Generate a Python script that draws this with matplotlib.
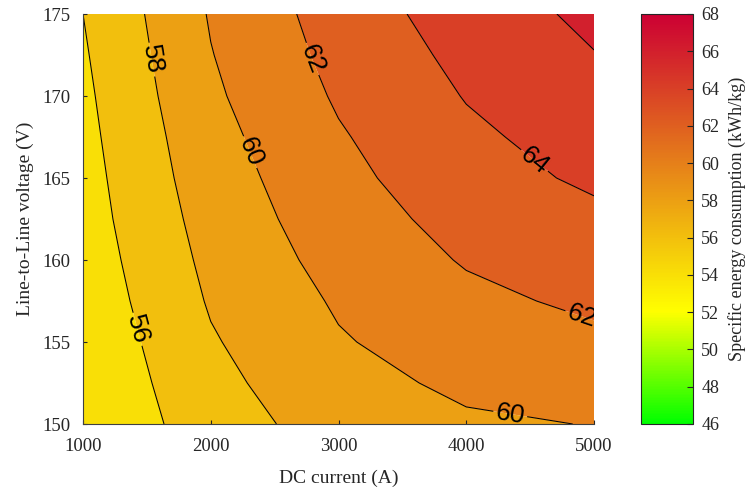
import numpy as np
import matplotlib
matplotlib.use('Agg')
import matplotlib.pyplot as plt
from matplotlib.colors import LinearSegmentedColormap, Normalize
from matplotlib.cm import ScalarMappable

plt.rcParams['font.family'] = 'Liberation Serif'

# DC current (A) and line-to-line voltage (V) grid
current = [1000, 2000, 3000, 4000, 5000]
voltage = [150, 152.5, 155, 157.5, 160, 162.5, 165, 167.5, 170, 172.5, 175]

# specific energy consumption (kWh/kg), one list per current, low -> high voltage
sec_1000 = [54.37, 54.31, 54.49, 54.73, 54.95, 55.15, 55.29, 55.45, 55.61, 55.80, 56.00]
sec_2000 = [56.94, 57.44, 57.82, 58.18, 58.48, 58.78, 59.09, 59.36, 59.68, 59.93, 60.15]
sec_3000 = [59.00, 59.40, 59.84, 60.22, 60.68, 61.09, 61.41, 61.82, 62.22, 62.58, 62.90]
sec_4000 = [59.75, 60.35, 60.96, 61.56, 62.15, 62.67, 63.35, 63.64, 64.09, 64.50, 64.95]
sec_5000 = [60.05, 60.82, 61.60, 62.36, 62.99, 63.65, 64.27, 64.82, 65.38, 65.94, 66.43]

fill_levels = [54, 56, 58, 60, 62, 64, 66, 68]
line_levels = [56, 58, 60, 62, 64, 66]

# where the contour labels sit (current, voltage)
label_spots = [(1390, 155.7), (1524, 172.2), (2346, 166.7), (4342, 150.5),
               (2777, 172.2), (4914, 156.8), (4538, 166.1)]

Z = np.array([sec_1000, sec_2000, sec_3000, sec_4000, sec_5000]).T
X, Y = np.meshgrid(current, voltage)

cmap = LinearSegmentedColormap.from_list(
    'gyr', [(0.0, '#00ff00'), (6 / 22, '#ffff00'), (1.0, '#cc0033')])
norm = Normalize(46, 68)
# regions take the colour of their lower level
fill_colors = [cmap(norm(lv)) for lv in fill_levels[:-1]]

fig = plt.figure(figsize=(7.52, 4.9), dpi=100)
ax = fig.add_axes([83 / 752, 66 / 490, 511 / 752, 410 / 490])
cax = fig.add_axes([641 / 752, 66 / 490, 52 / 752, 410 / 490])

ax.contourf(X, Y, Z, levels=fill_levels, colors=fill_colors, antialiased=True)
cs = ax.contour(X, Y, Z, levels=line_levels, colors='k', linewidths=0.75)
labels = ax.clabel(cs, fmt='%d', fontsize=19, inline=True, inline_spacing=4,
                   manual=label_spots)
for t in labels:
    t.set_fontfamily('Liberation Sans')

ax.set_xlim(1000, 5000)
ax.set_ylim(150, 175)
ax.set_xticks(current)
ax.set_yticks([150, 155, 160, 165, 170, 175])
ax.tick_params(direction='in', length=3, labelsize=13.5, colors='#262626',
               labelcolor='#262626')
ax.tick_params(axis='x', pad=10)
ax.tick_params(axis='y', pad=9)
ax.spines['top'].set_visible(False)
ax.spines['right'].set_visible(False)
for s in ['left', 'bottom']:
    ax.spines[s].set_color('#404040')
    ax.spines[s].set_linewidth(0.8)
ax.set_xlabel('DC current (A)', fontsize=14, color='#262626', labelpad=11)
ax.set_ylabel('Line-to-Line voltage (V)', fontsize=14, color='#262626',
              labelpad=6)

cbar = fig.colorbar(ScalarMappable(norm=norm, cmap=cmap), cax=cax,
                    ticks=range(46, 69, 2))
cbar.outline.set_linewidth(0.8)
cbar.outline.set_edgecolor('#262626')
cbar.ax.tick_params(direction='in', length=4, labelsize=13, colors='#262626',
                    pad=6)
cbar.set_label('Specific energy consumption (kWh/kg)', fontsize=13,
               color='#262626', labelpad=6)

fig.savefig('out.png', dpi=100)
